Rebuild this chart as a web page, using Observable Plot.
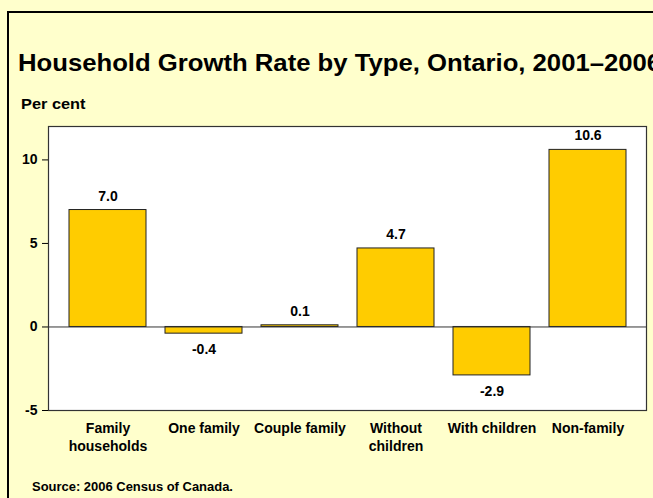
<!DOCTYPE html>
<html><head><meta charset="utf-8">
<script src="https://cdn.jsdelivr.net/npm/d3@7"></script>
<script src="https://cdn.jsdelivr.net/npm/@observablehq/plot@0.6"></script>
<style>
html,body{margin:0;padding:0;width:653px;height:498px;overflow:hidden;background:#FFFFCC;font-family:"Liberation Sans",Arial,sans-serif;}
#frame{position:absolute;left:7px;top:11px;width:700px;height:600px;border:2px solid #000;box-sizing:border-box;}
.t{position:absolute;white-space:nowrap;font-weight:bold;color:#000;line-height:1;transform-origin:left top;}
#title{left:18px;top:51px;font-size:24px;transform:scaleX(1.07);}
#unit{left:21px;top:96px;font-size:15px;transform:scaleX(1.09);}
#source{left:32px;top:481px;font-size:12px;transform:scaleX(1.08);}
#chart{position:absolute;left:0;top:118px;}
</style></head>
<body>
<div id="frame"></div>
<div id="title" class="t">Household Growth Rate by Type, Ontario, 2001–2006</div>
<div id="unit" class="t">Per cent</div>
<div id="chart"></div>
<div id="source" class="t">Source: 2006 Census of Canada.</div>
<script>
const categories = ["Family\nhouseholds", "One family", "Couple family", "Without\nchildren", "With children", "Non-family"];
const values = [7.0, -0.4, 0.1, 4.7, -2.9, 10.6];
const yTicks = [-5, 0, 5, 10];

const data = categories.map((c, i) => ({category: c, value: values[i]}));
const pos = data.filter(d => d.value >= 0);
const neg = data.filter(d => d.value < 0);

const chart = Plot.plot({
  width: 653,
  height: 352,
  marginLeft: 48,
  marginRight: 7,
  marginTop: 8,
  marginBottom: 60,
  style: {background: "transparent", fontFamily: "Liberation Sans, Arial, sans-serif", fontSize: "14px", fontWeight: "bold", color: "#000"},
  x: {domain: categories, padding: 0.2, label: null},
  y: {domain: [-5, 12], label: null},
  marks: [
    Plot.frame({fill: "white", stroke: "#333", strokeWidth: 1.2}),
    Plot.axisY({ticks: yTicks, tickFormat: d => String(d), tickSize: 6, tickPadding: 5, stroke: "#000", fill: "#000", fontSize: 14, fontWeight: "bold", label: null}),
    Plot.axisX({tickSize: 0, tickPadding: 10, fill: "#000", fontSize: 14, fontWeight: "bold", lineHeight: 1.29, label: null}),
    Plot.barY(data, {x: "category", y: "value", fill: "#FFCC00", stroke: "#222", strokeWidth: 1}),
    Plot.ruleY([0], {stroke: "#333", strokeWidth: 1}),
    Plot.text(pos, {x: "category", y: "value", text: d => d.value.toFixed(1), dy: -14, fill: "#000", fontSize: 14, fontWeight: "bold"}),
    Plot.text(neg, {x: "category", y: "value", text: d => d.value.toFixed(1), dy: 16, fill: "#000", fontSize: 14, fontWeight: "bold"}),
  ]
});
document.getElementById("chart").appendChild(chart);
</script>
</body></html>
